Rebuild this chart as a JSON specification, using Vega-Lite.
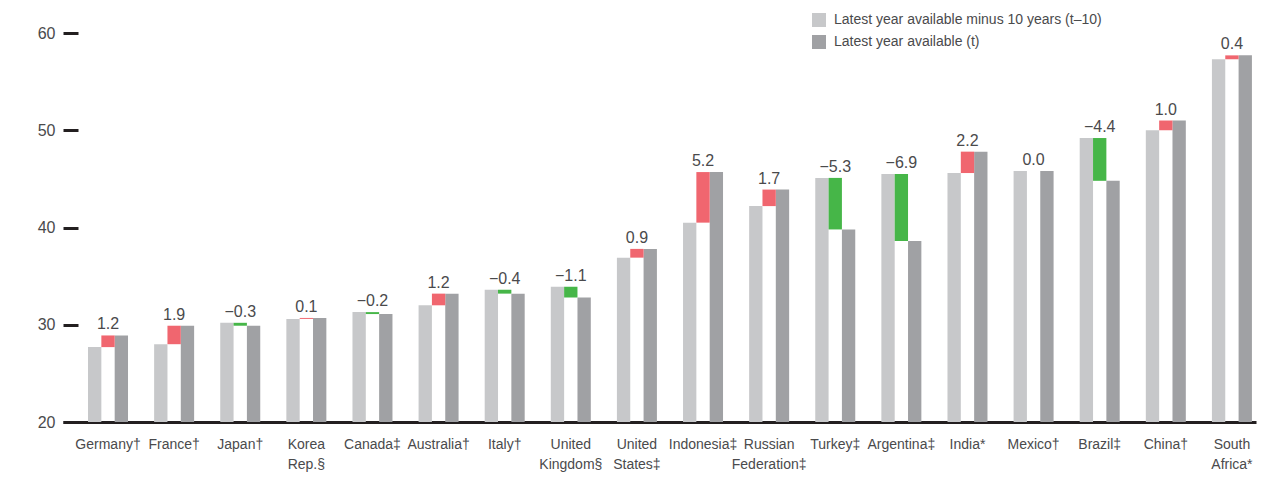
{
  "$schema": "https://vega.github.io/schema/vega-lite/v6.json",
  "width": 1193,
  "height": 389,
  "autosize": {"type": "none"},
  "padding": {"left": 63, "top": 33, "right": 28, "bottom": 56},
  "config": {
    "font": "Liberation Sans",
    "view": {"stroke": null}
  },
  "data": {
    "values": [
      {"country": "Germany†", "t10": 27.7, "t": 28.9, "chg": 1.2},
      {"country": "France†", "t10": 28.0, "t": 29.9, "chg": 1.9},
      {"country": "Japan†", "t10": 30.2, "t": 29.9, "chg": -0.3},
      {"country": "Korea|Rep.§", "t10": 30.6, "t": 30.7, "chg": 0.1},
      {"country": "Canada‡", "t10": 31.3, "t": 31.1, "chg": -0.2},
      {"country": "Australia†", "t10": 32.0, "t": 33.2, "chg": 1.2},
      {"country": "Italy†", "t10": 33.6, "t": 33.2, "chg": -0.4},
      {"country": "United|Kingdom§", "t10": 33.9, "t": 32.8, "chg": -1.1},
      {"country": "United|States‡", "t10": 36.9, "t": 37.8, "chg": 0.9},
      {"country": "Indonesia‡", "t10": 40.5, "t": 45.7, "chg": 5.2},
      {"country": "Russian|Federation‡", "t10": 42.2, "t": 43.9, "chg": 1.7},
      {"country": "Turkey‡", "t10": 45.1, "t": 39.8, "chg": -5.3},
      {"country": "Argentina‡", "t10": 45.5, "t": 38.6, "chg": -6.9},
      {"country": "India*", "t10": 45.6, "t": 47.8, "chg": 2.2},
      {"country": "Mexico†", "t10": 45.8, "t": 45.8, "chg": 0.0},
      {"country": "Brazil‡", "t10": 49.2, "t": 44.8, "chg": -4.4},
      {"country": "China†", "t10": 50.0, "t": 51.0, "chg": 1.0},
      {"country": "South|Africa*", "t10": 57.3, "t": 57.7, "chg": 0.4}
    ]
  },
  "encoding": {
    "x": {
      "field": "country",
      "type": "nominal",
      "sort": null,
      "scale": {"paddingInner": 0.395, "paddingOuter": 0.22, "align": 0.86},
      "axis": {
        "title": null,
        "labelAngle": 0,
        "ticks": false,
        "domainColor": "#231f20",
        "domainWidth": 3,
        "labelPadding": 15,
        "labelFontSize": 14,
        "labelColor": "#4a4a4c",
        "labelLineHeight": 20,
        "labelExpr": "split(datum.label, '|')"
      }
    }
  },
  "layer": [
    {
      "transform": [{"fold": ["t10", "t"], "as": ["series", "value"]}],
      "mark": {"type": "bar"},
      "encoding": {
        "xOffset": {
          "field": "series",
          "type": "nominal",
          "scale": {"domain": ["t10", "chg", "t"], "paddingInner": 0, "paddingOuter": 0}
        },
        "y": {
          "field": "value",
          "type": "quantitative",
          "scale": {"domain": [20, 60], "zero": false, "nice": false},
          "axis": {
            "title": null,
            "values": [20, 30, 40, 50, 60],
            "grid": false,
            "domain": false,
            "tickSize": -15,
            "tickWidth": 3,
            "tickColor": "#231f20",
            "labelPadding": 23,
            "labelFontSize": 16,
            "labelColor": "#4a4a4c"
          }
        },
        "y2": {"datum": 20},
        "color": {
          "field": "series",
          "type": "nominal",
          "scale": {"domain": ["t10", "t"], "range": ["#c7c8ca", "#a0a1a4"]},
          "legend": {
            "title": null,
            "orient": "none",
            "legendX": 749,
            "legendY": -20,
            "padding": 0,
            "symbolType": "square",
            "symbolSize": 196,
            "symbolStrokeWidth": 0,
            "symbolOpacity": 1,
            "labelFontSize": 14,
            "labelColor": "#4a4a4c",
            "labelOffset": 8,
            "rowPadding": 8,
            "labelLimit": 400,
            "labelExpr": "datum.value == 't10' ? 'Latest year available minus 10 years (t–10)' : 'Latest year available (t)'"
          }
        }
      }
    },
    {
      "mark": {"type": "bar"},
      "encoding": {
        "xOffset": {"datum": "chg"},
        "y": {"field": "t10", "type": "quantitative"},
        "y2": {"field": "t"},
        "color": {
          "condition": {"test": "datum.t >= datum.t10", "value": "#f0666f"},
          "value": "#46b648"
        }
      }
    },
    {
      "transform": [
        {"fold": ["t10", "t"], "as": ["series", "value"]},
        {"aggregate": [{"op": "max", "field": "value", "as": "top"}], "groupby": ["country", "chg"]}
      ],
      "mark": {"type": "text", "baseline": "alphabetic", "dy": -6, "fontSize": 16, "color": "#4a4a4c"},
      "encoding": {
        "y": {"field": "top", "type": "quantitative"},
        "text": {"field": "chg", "type": "quantitative", "format": ".1f"}
      }
    }
  ]
}
